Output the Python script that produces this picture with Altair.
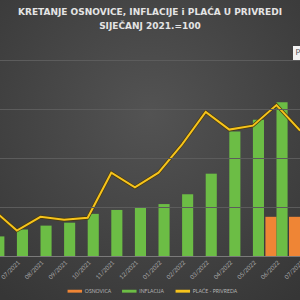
import altair as alt
import pandas as pd

# ---- data ----
months = ["06/2021", "07/2021", "08/2021", "09/2021", "10/2021", "11/2021", "12/2021",
          "01/2022", "02/2022", "03/2022", "04/2022", "05/2022", "06/2022", "07/2022"]
osnovica = [100.0, 100.0, 100.0, 100.0, 100.0, 100.0, 100.0,
            100.0, 100.0, 100.0, 100.0, 100.0, 104.0, 104.0]
inflacija = [102.0, 102.7, 103.1, 103.4, 104.3, 104.7, 104.9,
             105.3, 106.3, 108.4, 112.7, 113.9, 115.7, 117.2]
place = [104.7, 102.6, 104.0, 103.7, 103.9, 108.5, 107.0,
         108.5, 111.4, 114.7, 112.9, 113.3, 115.4, 112.8]

series_names = ["OSNOVICA", "INFLACIJA", "PLAĆE - PRIVREDA"]
series_colors = ["#ef8535", "#6cbd45", "#f6c31c"]
bar_series = ["OSNOVICA", "INFLACIJA"]
title_line1 = "KRETANJE OSNOVICE, INFLACIJE i PLAĆA U PRIVREDI"
title_line2 = "SIJEČANJ 2021.=100"
grid_values = [105, 110, 115, 120]
y_min, y_max = 100, 120

bars_df = pd.DataFrame({
    "mjesec": months * 2,
    "serija": ["OSNOVICA"] * len(months) + ["INFLACIJA"] * len(months),
    "vrijednost": osnovica + inflacija,
})
line_df = pd.DataFrame({
    "mjesec": months,
    "serija": ["PLAĆE - PRIVREDA"] * len(months),
    "vrijednost": place,
})

FONT = "Lato"
TITLE_FONT = "DejaVu Sans"

x_scale = alt.Scale(domain=months, range=[-18.5, 311.9], paddingInner=0.06, paddingOuter=0.03)
y_scale = alt.Scale(domain=[y_min, y_max], zero=False, nice=False)
color_scale = alt.Scale(domain=series_names, range=series_colors)

x_axis = alt.Axis(title=None, labelAngle=-45, labelFont=FONT, labelFontSize=6,
                  labelColor="#acacac", labelPadding=3, ticks=False,
                  domainColor="#7a7a7a", domainWidth=1, grid=False, labelOverlap=False,
                  zindex=2)
y_axis = alt.Axis(title=None, labels=False, ticks=False, domain=False, grid=True,
                  values=grid_values, gridColor="#5c5c5c", gridWidth=1, zindex=1)

legend = alt.Legend(orient="none", legendX=67.3, legendY=223.5, direction="horizontal",
                    title=None, symbolType="M-1,-0.2H1V0.2H-1Z", symbolSize=210,
                    symbolStrokeWidth=0, labelFont=FONT, labelFontSize=5.1,
                    labelColor="#b5b5b5", labelOffset=2.5, columnPadding=10.5, padding=0,
                    zindex=2)

bg = alt.Chart(pd.DataFrame({"a": [0]})).mark_rect(
    fill=alt.RadialGradient(
        gradient="radial",
        stops=[alt.GradientStop(offset=0, color="#535353"),
               alt.GradientStop(offset=1, color="#363636")],
        x1=0.5, y1=0.38, r1=0, x2=0.5, y2=0.38, r2=0.78,
    )
).encode(x=alt.value(0), x2=alt.value(300), y=alt.value(-60), y2=alt.value(240))

bars = alt.Chart(bars_df).mark_bar().encode(
    x=alt.X("mjesec:N", scale=x_scale, axis=x_axis, sort=months),
    xOffset=alt.XOffset("serija:N", scale=alt.Scale(domain=bar_series, paddingInner=0, paddingOuter=0)),
    y=alt.Y("vrijednost:Q", scale=y_scale, axis=y_axis),
    y2=alt.datum(y_min),
    color=alt.Color("serija:N", scale=color_scale, legend=legend),
)

line_outline = alt.Chart(line_df).mark_line(color="#4a3b0c", strokeWidth=3.4).encode(
    x=alt.X("mjesec:N", scale=x_scale, axis=x_axis, sort=months),
    y=alt.Y("vrijednost:Q", scale=y_scale, axis=y_axis),
)
line = alt.Chart(line_df).mark_line(strokeWidth=2).encode(
    x=alt.X("mjesec:N", scale=x_scale, axis=x_axis, sort=months),
    y=alt.Y("vrijednost:Q", scale=y_scale, axis=y_axis),
    color=alt.Color("serija:N", scale=color_scale, legend=legend),
)

t1 = alt.Chart(pd.DataFrame({"t": [title_line1]})).mark_text(
    font=TITLE_FONT, fontWeight="bold", fontSize=9, color="#e4e4e4",
    align="center", baseline="middle"
).encode(x=alt.value(150), y=alt.value(-48), text="t:N")
t2 = alt.Chart(pd.DataFrame({"t": [title_line2]})).mark_text(
    font=TITLE_FONT, fontWeight="bold", fontSize=9, color="#e4e4e4",
    align="center", baseline="middle"
).encode(x=alt.value(150), y=alt.value(-34), text="t:N")

pbox = alt.Chart(pd.DataFrame({"a": [0]})).mark_rect(fill="#f2f2f2").encode(
    x=alt.value(293), x2=alt.value(310), y=alt.value(-14), y2=alt.value(0))
ptxt = alt.Chart(pd.DataFrame({"t": ["P"]})).mark_text(
    font=FONT, fontSize=8, color="#595959", align="left", baseline="middle"
).encode(x=alt.value(295.5), y=alt.value(-7), text="t:N")

chart = alt.layer(bg, bars, line_outline, line, t1, t2, pbox, ptxt).properties(
    width=300, height=196,
    padding={"top": 60, "left": 0, "right": 0, "bottom": 44},
    autosize=alt.AutoSizeParams(type="none"),
).configure(background="#3b3b3b").configure_view(stroke=None).configure_axis(labelOverlap=False)

chart.save("out.html", embed_options={"renderer": "svg", "actions": False})
